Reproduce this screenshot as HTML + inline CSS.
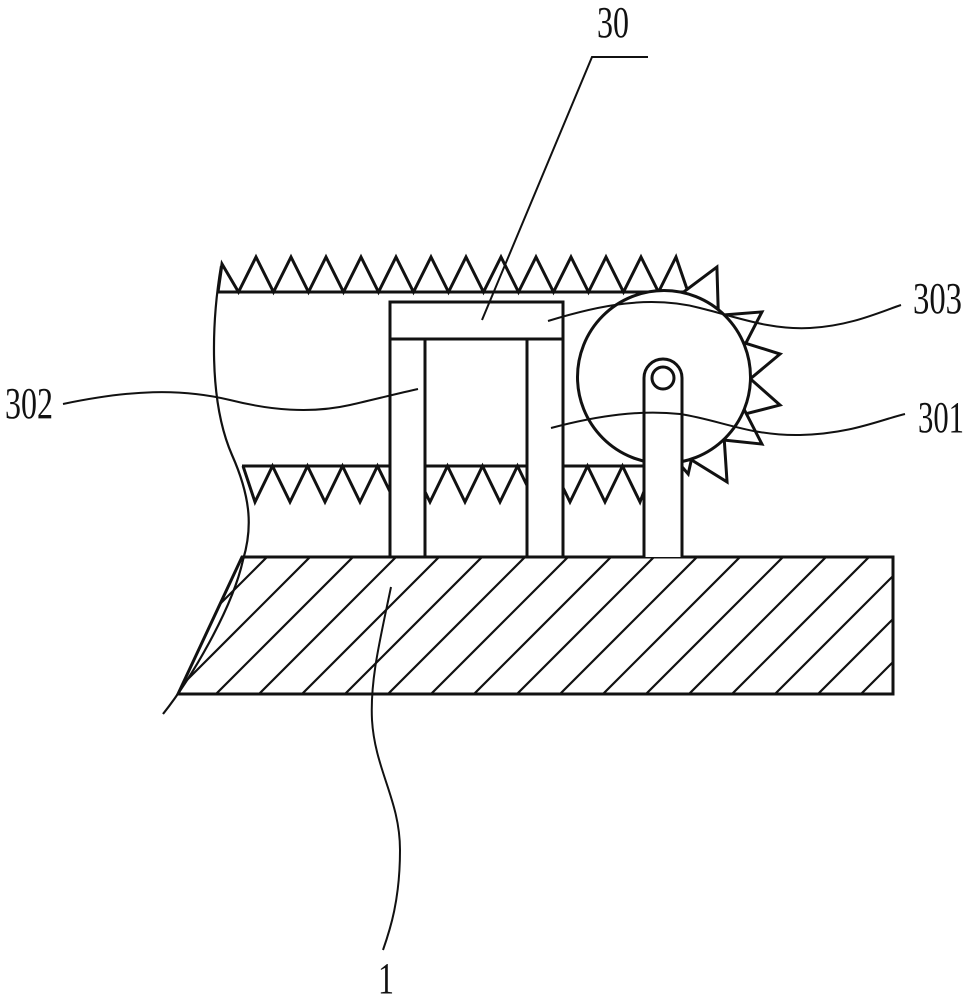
<!DOCTYPE html>
<html><head><meta charset="utf-8"><style>
html,body{margin:0;padding:0;background:#fff;}
svg{display:block;}
text{font-family:"Liberation Serif",serif;font-size:44px;fill:#111;}
</style></head><body>
<svg width="967" height="1000" viewBox="0 0 967 1000" xmlns="http://www.w3.org/2000/svg">
<defs>
<clipPath id="bc"><polygon points="242,557 893,557 893,694 178,694"/></clipPath>
</defs>
<g stroke="#111" fill="none" stroke-width="3" stroke-linejoin="miter">
<!-- hatch -->
<g clip-path="url(#bc)" stroke-width="2.2">
<path d="M1,694 L400,295 M44,694 L443,295 M87,694 L486,295 M130,694 L529,295 M173,694 L572,295 M216,694 L615,295 M259,694 L658,295 M302,694 L701,295 M345,694 L744,295 M388,694 L787,295 M431,694 L830,295 M474,694 L873,295 M517,694 L916,295 M560,694 L959,295 M603,694 L1002,295 M646,694 L1045,295 M689,694 L1088,295 M732,694 L1131,295 M775,694 L1174,295 M818,694 L1217,295 M861,694 L1260,295 M904,694 L1303,295"/>
</g>
<polygon points="242,557 893,557 893,694 178,694"/>
<!-- top rack -->
<line x1="218" y1="292" x2="690" y2="292"/>
<polyline points="218,292 222,264 238.5,292 256,257 273.5,292 291,257 308.5,292 326,257 343.5,292 361,257 378.5,292 396,257 413.5,292 431,257 448.5,292 466,257 483.5,292 501,257 518.5,292 536,257 553.5,292 571,257 588.5,292 606,257 623.5,292 641,257 658.5,292 676,257 688,292"/>
<!-- lower rack -->
<line x1="242" y1="466" x2="646" y2="466"/>
<polyline points="243,466 255,502 272.5,466 290,502 307.5,466 325,502 342.5,466 360,502 377.5,466 395,502 412.5,466 430,502 447.5,466 465,502 482.5,466 500,502 517.5,466 535,502 552.5,466 570,502 587.5,466 605,502 622.5,466 640,502 646,486"/>
<!-- gear teeth -->
<g transform="translate(664,377)" fill="#fff">
<polygon transform="rotate(-64.3)" points="83.5,-20 122,0 83.5,20"/>
<polygon transform="rotate(-33.6)" points="83.5,-19 117.6,0 83.5,19"/>
<polygon transform="rotate(-11.2)" points="83.5,-19 118.3,0 83.5,19"/>
<polygon transform="rotate(13.6)" points="83.5,-19 119.3,0 83.5,19"/>
<polygon transform="rotate(34.4)" points="83.5,-19 118.7,0 83.5,19"/>
<polygon transform="rotate(59)" points="83.5,-20 122.4,0 83.5,20"/>
<polygon transform="rotate(76)" points="84,-8 100,0 84,8"/>
</g>
<circle cx="664" cy="377" r="86.5" fill="#fff"/>
<!-- block 30 -->
<rect x="390" y="302" width="173" height="37" fill="#fff"/>
<rect x="390" y="339" width="35" height="218" fill="#fff"/>
<rect x="527" y="339" width="36" height="218" fill="#fff"/>
<!-- arm -->
<path d="M644,557 L644,378 A19,19 0 0 1 682,378 L682,557" fill="#fff"/>
<circle cx="663" cy="378" r="11" fill="#fff"/>
<!-- break line -->
<path stroke-width="2.2" d="M221,266 C212,320 208,400 232,455 C252,500 252,530 243,560 C232,610 190,680 163,714"/>
</g>
<!-- leaders -->
<g stroke="#111" fill="none" stroke-width="2">
<path d="M648,57 L592,57 L482,320"/>
<path d="M548,321 C600,305 650,295 700,308 C740,318 770,330 810,328 C850,326 880,312 901,305"/>
<path d="M551,428 C600,415 640,410 680,414 C720,420 750,436 800,435 C850,434 880,420 905,414"/>
<path d="M63,404 C130,390 180,388 230,400 C270,410 310,414 350,405 C380,398 400,393 418,389"/>
<path d="M391,587 C380,640 370,680 372,720 C375,770 400,800 400,850 C400,900 390,930 383,950"/>
</g>
<text x="597" y="37" textLength="32" lengthAdjust="spacingAndGlyphs">30</text>
<text x="913" y="313" textLength="49" lengthAdjust="spacingAndGlyphs">303</text>
<text x="918" y="432" textLength="46" lengthAdjust="spacingAndGlyphs">301</text>
<text x="5" y="418" textLength="48" lengthAdjust="spacingAndGlyphs">302</text>
<text x="378" y="993" textLength="16" lengthAdjust="spacingAndGlyphs">1</text>
</svg>
</body></html>
